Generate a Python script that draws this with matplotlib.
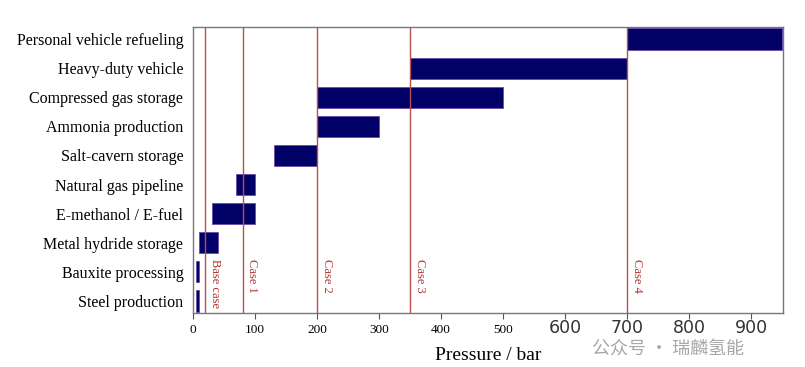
import matplotlib
matplotlib.use('Agg')
from matplotlib import pyplot as plt

plt.rcParams['font.family'] = ['Liberation Serif', 'DejaVu Serif']

# applications (top to bottom) and pressure ranges / bar
apps = ['Personal vehicle refueling', 'Heavy-duty vehicle', 'Compressed gas storage',
        'Ammonia production', 'Salt-cavern storage', 'Natural gas pipeline',
        'E-methanol / E-fuel', 'Metal hydride storage', 'Bauxite processing',
        'Steel production']
p_low = [700, 350, 200, 200, 130, 70, 30, 10, 5, 5]
p_high = [950, 700, 500, 300, 200, 100, 100, 40, 10, 10]

cases = ['Base case', 'Case 1', 'Case 2', 'Case 3', 'Case 4']
case_p = [20, 80, 200, 350, 700]

xticks = [0, 100, 200, 300, 400, 500, 600, 700, 800, 900]

fig = plt.figure(figsize=(8.05, 3.67), dpi=100)
ax = fig.add_axes([193/805, 1-313/367, 590/805, 286/367])

ypos = list(range(len(apps)))[::-1]
for y, lo, hi in zip(ypos, p_low, p_high):
    ax.barh(y, hi-lo, left=lo, height=0.74, color='#000066',
            edgecolor='#6a4aa8', linewidth=0.6, zorder=3)

for name, p in zip(cases, case_p):
    ax.axvline(p, color='#b85050', lw=1.0, zorder=4)
    ax.text(p+6, 1.45, name, rotation=270, color='#b03030', fontsize=9,
            ha='left', va='top', zorder=5)

ax.set_xlim(0, 951)
ax.set_ylim(-0.42, 9.42)
ax.set_yticks(ypos)
ax.set_yticklabels(apps, fontsize=11.5)
ax.tick_params(axis='y', length=0, pad=7)

ax.set_xticks(xticks)
lbls = [str(t) if t <= 500 else '' for t in xticks]
ax.set_xticklabels(lbls, fontsize=9.5)
ax.tick_params(axis='x', direction='out', length=4, color='#555555', pad=4)
for t in xticks:
    if t > 500:
        ax.text(t, -0.95, str(t), ha='center', va='center', fontsize=12.5,
                family='DejaVu Sans', color='#333333', zorder=6, clip_on=False)

for s in ax.spines.values():
    s.set_color('#777777')
    s.set_linewidth(1.0)

ax.set_xlabel('Pressure / bar', fontsize=14, labelpad=8)

# watermark
fig.text(0.735, 0.05, '公众号 · 瑞麟氢能', fontsize=13, color='#a8a8a8',
         family=['Noto Sans CJK SC', 'DejaVu Sans'], ha='left', va='center',
         zorder=10)

fig.savefig('out.png', dpi=100)
